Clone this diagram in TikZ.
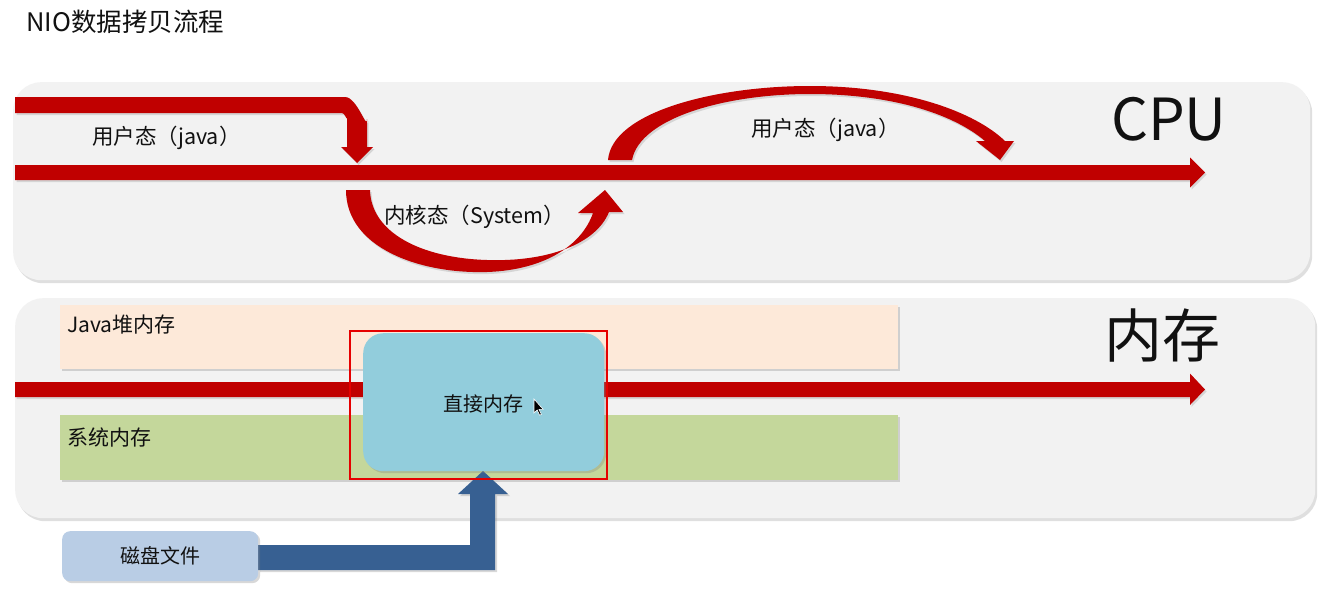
\documentclass[tikz,border=0pt]{standalone}
\usepackage{fontspec}
\setmainfont{Noto Sans CJK SC}
\usetikzlibrary{shadows}
\definecolor{panelgray}{HTML}{F2F2F2}
\definecolor{arrred}{HTML}{C00000}
\definecolor{heapc}{HTML}{FDE9D9}
\definecolor{sysc}{HTML}{C4D79B}
\definecolor{directc}{HTML}{92CDDC}
\definecolor{framered}{HTML}{E60000}
\definecolor{diskc}{HTML}{B9CDE5}
\definecolor{bluearr}{HTML}{376092}
\definecolor{txt}{HTML}{111111}
\begin{document}
\begin{tikzpicture}[x=1pt,y=-1pt,
  panel/.style={fill=panelgray, draw=none, rounded corners=28pt, inner sep=0pt, anchor=north west,
    drop shadow={shadow xshift=2pt,shadow yshift=-3pt,opacity=0.25}},
  membox/.style={draw=none, inner sep=0pt, anchor=north west,
    drop shadow={shadow xshift=2pt,shadow yshift=-2pt,opacity=0.3}},
  redarrow/.style={fill=arrred, draw=none,
    drop shadow={shadow xshift=1.5pt,shadow yshift=-2pt,opacity=0.25}},
  bluearrow/.style={fill=bluearr, draw=none,
    drop shadow={shadow xshift=2pt,shadow yshift=-2pt,opacity=0.3}},
  label/.style={text=txt, font=\fontsize{20}{24}\selectfont, inner sep=0pt},
  cpulabel/.style={text=txt, font=\fontsize{21.5}{24}\selectfont, inner sep=0pt, anchor=west},
  biglabel/.style={text=txt, font=\fontsize{58}{64}\selectfont, inner sep=0pt}
]
\useasboundingbox[fill=white] (0,0) rectangle (1325,589);

% title
\node[label, anchor=west, font=\fontsize{25.5}{28}\selectfont] (title) at (26,22) {NIO数据拷贝流程};

% panels
\node[panel, minimum width=1297pt, minimum height=198pt] (cpu) at (13,82) {};
\node[panel, minimum width=1300pt, minimum height=220pt] (mem) at (15,298) {};

% CPU: main line
\coordinate (cpuL) at (15,172.5);
\coordinate (cpuR) at (1205,172.5);
\path[redarrow] (15,165) -- (1190,165) -- (1190,157.5) -- (cpuR) -- (1190,187.5) -- (1190,180) -- (15,180) -- cycle;

% bent arrow top-left
\path[redarrow] (15,97) -- (345,97) to[out=0,in=-90] (367,119) -- (367,147) -- (373,147) -- (357,163)
   -- (341,147) -- (347,147) -- (347,118) to[out=-90,in=0] (342,113) -- (15,113) -- cycle;

% kernel curved arrow
\path[redarrow] (346,190) .. controls (346,248) and (420,274) .. (487,272)
   .. controls (545,270) and (582,245) .. (593,213) -- (578,213) -- (605,190) -- (623,212) -- (609,212)
   .. controls (596,244) and (548,262) .. (487,260)
   .. controls (420,258) and (371,232) .. (370,190) -- cycle;

% user-state upper arc arrow
\path[redarrow] (608,160) .. controls (612,112) and (715,86) .. (810,86)
   .. controls (905,86) and (975,112) .. (1005,141) -- (1014,141) -- (1000,160) -- (976,141) -- (985,141)
   .. controls (952,113) and (890,94) .. (810,94)
   .. controls (725,94) and (640,118) .. (632,160) -- cycle;

% CPU labels
\node[cpulabel] (u1) at (92,138) {用户态（java）};
\node[cpulabel] (u2) at (751,130) {用户态（java）};
\node[cpulabel] (k1) at (384,217) {内核态（System）};
\node[biglabel] (cpulab) at (1169,119) {CPU};

% memory boxes
\node[membox, fill=heapc, minimum width=838pt, minimum height=64pt] (heap) at (60,305) {};
\node[label, anchor=west, font=\fontsize{21}{24}\selectfont] (heaplab) at (67,325) {Java堆内存};
\node[membox, fill=sysc, minimum width=838pt, minimum height=65pt] (sys) at (60,415) {};
\node[label, anchor=west, font=\fontsize{21}{24}\selectfont] (syslab) at (67,437) {系统内存};

% memory line
\path[redarrow] (15,382) -- (1190,382) -- (1190,373.5) -- (1205,389.5) -- (1190,405) -- (1190,397) -- (15,397) -- cycle;

\node[biglabel] (memlab) at (1162,336) {内存};

% blue arrow from disk file to direct memory
\path[bluearrow] (258,545) -- (470,545) -- (470,494) -- (458,494) -- (483,471) -- (508,494) -- (495,494)
   -- (495,570) -- (258,570) -- cycle;

% disk file
\node[membox, fill=diskc, rounded corners=8pt, minimum width=196pt, minimum height=50pt] (disk) at (62,531) {};
\node[label] (disklab) at (disk.center) {磁盘文件};

% direct memory
\node[membox, fill=directc, rounded corners=20pt, minimum width=241pt, minimum height=138pt] (direct) at (363,333) {};
\node[label] (directlab) at (483,404) {直接内存};

% highlight frame
\draw[framered, line width=2pt] (350,331) rectangle (607,479);

% mouse cursor
\path[fill=black, draw=white, line width=0.6pt] (534,399) -- (534,413) -- (537.2,410) -- (539.6,415.2) -- (541.4,414.4) -- (539,409.4) -- (543.2,409.4) -- cycle;
\end{tikzpicture}
\end{document}
